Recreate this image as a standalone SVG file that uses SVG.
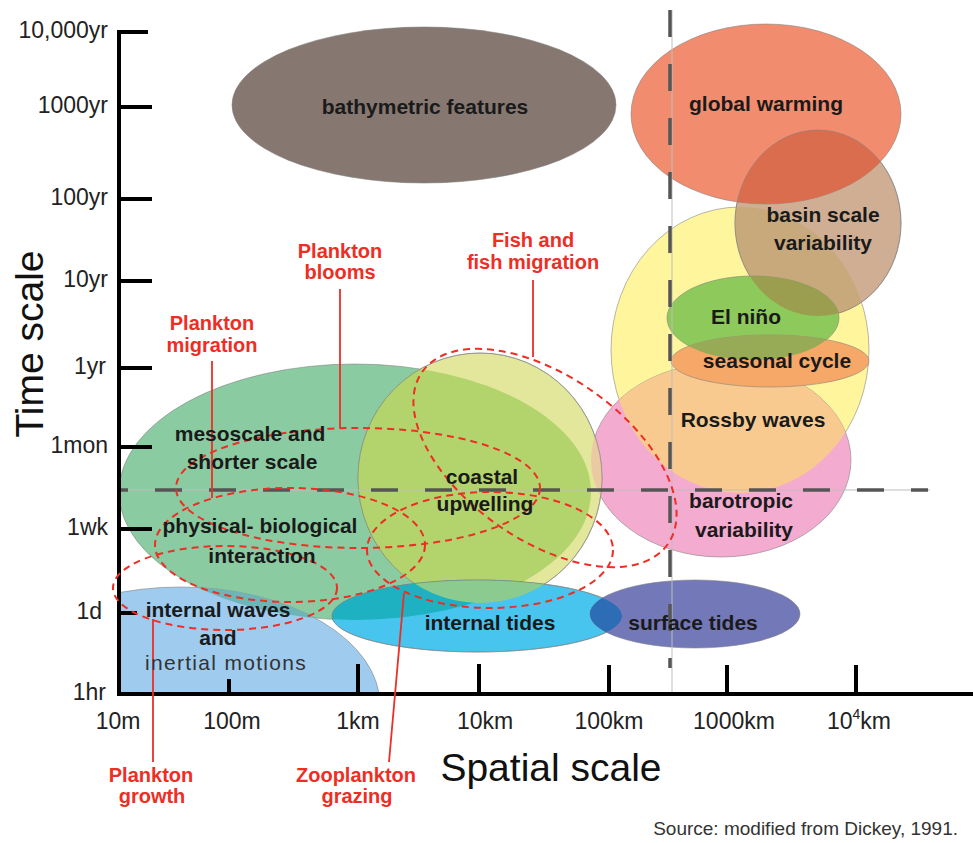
<svg xmlns="http://www.w3.org/2000/svg" width="973" height="843" viewBox="0 0 973 843">
<style>
.e{stroke:#7d7d7d;stroke-opacity:0.55;stroke-width:1}
.ov{stroke:none}
.lb{font-family:"Liberation Sans",Arial,sans-serif;font-weight:bold;font-size:21px;fill:#1a1a1a;text-anchor:middle}
.lr{font-family:"Liberation Sans",Arial,sans-serif;font-weight:normal;font-size:21px;letter-spacing:1.3px;fill:#333;text-anchor:middle}
.rd{font-family:"Liberation Sans",Arial,sans-serif;font-weight:bold;font-size:20px;fill:#ee2e24;text-anchor:middle}
.ax{font-family:"Liberation Sans",Arial,sans-serif;font-size:23px;fill:#222}
.yl{text-anchor:end}
.xl{text-anchor:middle}
.rdash{fill:none;stroke:#ee2e24;stroke-width:2;stroke-dasharray:7 5}
.lead{fill:none;stroke:#ee2e24;stroke-width:1.8}
.gdash{fill:none;stroke:#555;stroke-width:3.5;stroke-dasharray:27 27}
.gthin{fill:none;stroke:#bdbdbd;stroke-width:1}
.axis{fill:none;stroke:#000;stroke-width:4}
</style>
<defs>
<clipPath id="cYellow"><ellipse cx="740" cy="350" rx="129" ry="143"/></clipPath>
<clipPath id="cPink"><ellipse cx="721" cy="460" rx="130" ry="97"/></clipPath>
<clipPath id="cBasin"><ellipse cx="818" cy="223" rx="83" ry="93"/></clipPath>
<clipPath id="cElnino"><ellipse cx="753" cy="318" rx="86" ry="42"/></clipPath>
<clipPath id="cGreen"><ellipse cx="355" cy="492" rx="236" ry="128"/></clipPath>
<clipPath id="cCoastal"><ellipse cx="480" cy="478" rx="122" ry="125"/></clipPath>
<clipPath id="cIT"><ellipse cx="477" cy="616" rx="145" ry="36"/></clipPath>
<clipPath id="cAxis"><rect x="119" y="0" width="854" height="694"/></clipPath>
</defs>

<rect x="0" y="0" width="973" height="843" fill="#fff"/>

<g id="bathymetric-features">
<ellipse class="e" cx="424" cy="105" rx="192" ry="78" fill="#867870"/>
<text class="lb" x="425" y="114">bathymetric features</text>
</g>

<g id="rossby-barotropic-shapes">
<ellipse class="e" cx="740" cy="350" rx="129" ry="143" fill="#fef59c"/>
<ellipse class="e" cx="721" cy="460" rx="130" ry="97" fill="#f4abd0"/>
<ellipse class="ov" cx="721" cy="460" rx="130" ry="97" fill="#f9ca90" clip-path="url(#cYellow)"/>
</g>

<g id="basin-scale-variability">
<ellipse class="e" cx="818" cy="223" rx="83" ry="93" fill="#cfae93"/>
<ellipse class="ov" cx="818" cy="223" rx="83" ry="93" fill="#c8a97b" clip-path="url(#cYellow)"/>
</g>

<g id="global-warming">
<ellipse class="e" cx="766" cy="114" rx="135" ry="90" fill="#f28c6e"/>
<ellipse class="ov" cx="766" cy="114" rx="135" ry="90" fill="#db6d4f" clip-path="url(#cBasin)"/>
<ellipse cx="818" cy="223" rx="83" ry="93" fill="none" class="e"/>
</g>

<g id="el-nino">
<ellipse class="e" cx="753" cy="318" rx="86" ry="42" fill="#8ec95b"/>
<ellipse class="ov" cx="753" cy="318" rx="86" ry="42" fill="#9b9e4f" clip-path="url(#cBasin)"/>
</g>

<g id="seasonal-cycle">
<ellipse class="e" cx="770" cy="361" rx="99" ry="26" fill="#f6a869"/>
<ellipse class="ov" cx="770" cy="361" rx="99" ry="26" fill="#97aa55" clip-path="url(#cElnino)"/>
</g>

<g id="mesoscale">
<ellipse class="e" cx="355" cy="492" rx="236" ry="128" fill="#8bcba2"/>
</g>

<g id="internal-waves">
<g clip-path="url(#cAxis)">
<ellipse class="e" cx="180" cy="705" rx="200" ry="118" fill="#9ecbee"/>
</g>
<ellipse class="ov" cx="180" cy="705" rx="200" ry="118" fill="#6cb6b8" clip-path="url(#cGreen)"/>
</g>

<g id="coastal-upwelling">
<ellipse class="e" cx="480" cy="478" rx="122" ry="125" fill="#e3e79c"/>
<ellipse class="ov" cx="480" cy="478" rx="122" ry="125" fill="#b3d46d" clip-path="url(#cGreen)"/>
<ellipse class="ov" cx="480" cy="478" rx="122" ry="125" fill="#ebc9a3" clip-path="url(#cPink)"/>
<ellipse cx="480" cy="478" rx="122" ry="125" fill="none" class="e"/>
</g>

<g id="internal-tides">
<ellipse class="e" cx="477" cy="616" rx="145" ry="36" fill="#47c5ef"/>
<ellipse class="ov" cx="477" cy="616" rx="145" ry="36" fill="#1eb1c1" clip-path="url(#cGreen)"/>
<ellipse class="ov" cx="477" cy="616" rx="145" ry="36" fill="#8ccb8f" clip-path="url(#cCoastal)"/>
<ellipse cx="477" cy="616" rx="145" ry="36" fill="none" class="e"/>
</g>

<g id="surface-tides">
<ellipse class="e" cx="695" cy="614" rx="105" ry="34" fill="#7378b8"/>
<ellipse class="ov" cx="695" cy="614" rx="105" ry="34" fill="#2c6db6" clip-path="url(#cIT)"/>
</g>

<g id="guides">
<line class="gthin" x1="119" y1="490" x2="930" y2="490"/>
<line class="gthin" x1="672" y1="10" x2="672" y2="694"/>
<line class="gdash" x1="119" y1="490" x2="928" y2="490" stroke-dashoffset="18"/>
<line class="gdash" x1="670" y1="10" x2="670" y2="668"/>
</g>

<g id="axes">
<line class="axis" x1="119" y1="30" x2="119" y2="696"/>
<line class="axis" x1="117" y1="694" x2="973" y2="694"/>
<path class="axis" d="M119 32H148M119 107H152M119 199H152M119 281H152M119 368H152M119 447H152M119 529H152M119 613H137"/>
<path class="axis" d="M229 694V679M358 694V664M479 694V664M609 694V665M727 694V665M856 694V665"/>
<text class="ax yl" x="108" y="38">10,000yr</text>
<text class="ax yl" x="108" y="113">1000yr</text>
<text class="ax yl" x="108" y="205">100yr</text>
<text class="ax yl" x="108" y="287">10yr</text>
<text class="ax yl" x="106" y="374">1yr</text>
<text class="ax yl" x="108" y="453">1mon</text>
<text class="ax yl" x="108" y="535">1wk</text>
<text class="ax yl" x="102" y="619">1d</text>
<text class="ax yl" x="106" y="700">1hr</text>
<text class="ax xl" x="118" y="729">10m</text>
<text class="ax xl" x="232" y="729">100m</text>
<text class="ax xl" x="358" y="729">1km</text>
<text class="ax xl" x="485" y="729">10km</text>
<text class="ax xl" x="609" y="729">100km</text>
<text class="ax xl" x="734" y="729">1000km</text>
<text class="ax xl" x="859" y="729">10<tspan font-size="14" dy="-10">4</tspan><tspan dy="10">km</tspan></text>
<text font-family="'Liberation Sans',Arial,sans-serif" font-size="39" fill="#111" text-anchor="middle" transform="translate(43 344) rotate(-90)">Time scale</text>
<text font-family="'Liberation Sans',Arial,sans-serif" font-size="39" fill="#111" text-anchor="middle" x="551" y="781">Spatial scale</text>
<text font-family="'Liberation Sans',Arial,sans-serif" font-size="19" fill="#333" text-anchor="end" x="958" y="835">Source: modified from Dickey, 1991.</text>
</g>

<g id="plankton-blooms">
<ellipse class="rdash" cx="358" cy="488" rx="182" ry="60"/>
<text class="rd" x="340" y="258">Plankton</text>
<text class="rd" x="340" y="279">blooms</text>
</g>
<g id="fish-migration">
<ellipse class="rdash" cx="0" cy="0" rx="150" ry="82" transform="translate(545 458) rotate(35)"/>
<text class="rd" x="533" y="247">Fish and</text>
<text class="rd" x="533" y="269">fish migration</text>
</g>
<g id="plankton-migration">
<ellipse class="rdash" cx="290" cy="545" rx="135" ry="57"/>
<text class="rd" x="212" y="330">Plankton</text>
<text class="rd" x="212" y="352">migration</text>
</g>
<g id="plankton-growth">
<ellipse class="rdash" cx="225" cy="588" rx="112" ry="42"/>
<text class="rd" x="151" y="782">Plankton</text>
<text class="rd" x="152" y="803">growth</text>
</g>
<g id="zooplankton-grazing">
<ellipse class="rdash" cx="490" cy="550" rx="123" ry="58"/>
<text class="rd" x="356" y="782">Zooplankton</text>
<text class="rd" x="357" y="803">grazing</text>
</g>

<g id="connectors">
<path class="lead" d="M340 289V428"/>
<path class="lead" d="M533 280V357"/>
<path class="lead" d="M212 361V498"/>
<path class="lead" d="M153 619V762"/>
<path class="lead" d="M404 593L389 762"/>
</g>

<g id="labels">
<text class="lb" x="766" y="111">global warming</text>
<text class="lb" x="823" y="222">basin scale</text>
<text class="lb" x="823" y="250">variability</text>
<text class="lb" x="746" y="324">El niño</text>
<text class="lb" x="777" y="368">seasonal cycle</text>
<text class="lb" x="753" y="427">Rossby waves</text>
<text class="lb" x="741" y="508">barotropic</text>
<text class="lb" x="744" y="537">variability</text>
<text class="lb" x="693" y="630">surface tides</text>
<text class="lb" x="490" y="630">internal tides</text>
<text class="lb" x="482" y="484">coastal</text>
<text class="lb" x="485" y="511">upwelling</text>
<text class="lb" x="250" y="441">mesoscale and</text>
<text class="lb" x="252" y="469">shorter scale</text>
<text class="lb" x="260" y="533">physical- biological</text>
<text class="lb" x="262" y="563">interaction</text>
<text class="lb" x="218" y="617">internal waves</text>
<text class="lb" x="218" y="645">and</text>
<text class="lr" x="226" y="670">inertial motions</text>
</g>
</svg>
